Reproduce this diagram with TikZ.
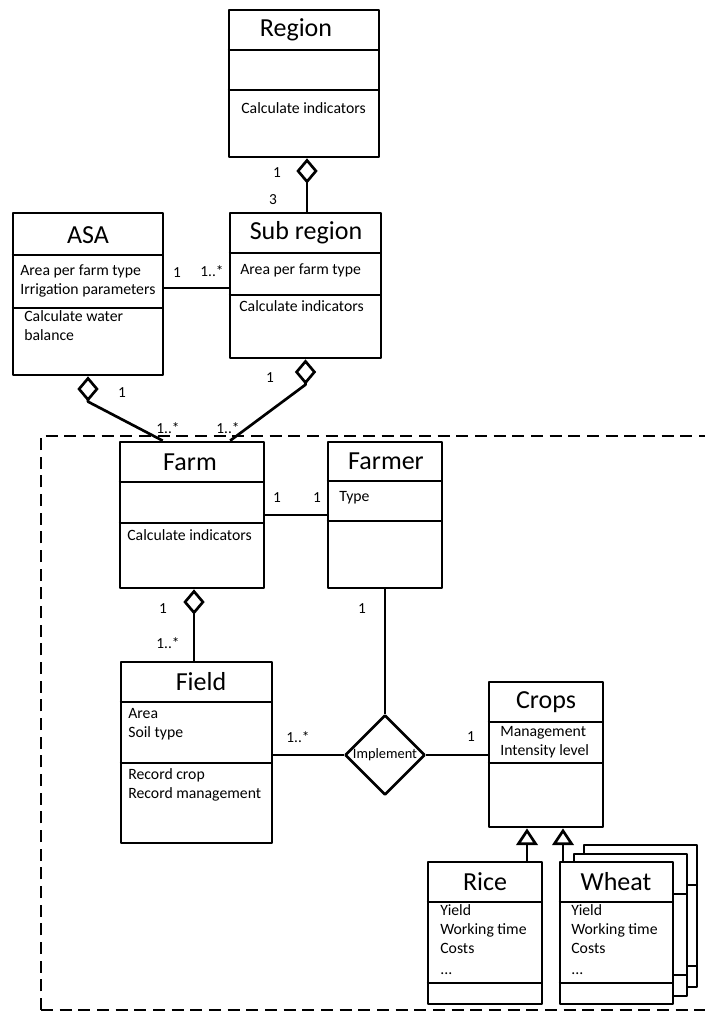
\documentclass[tikz,border=0pt]{standalone}
\usepackage{fontspec}
\setmainfont{Carlito}
\usetikzlibrary{arrows.meta,fit,calc,shapes.geometric}
\begin{document}
\begin{tikzpicture}[x=0.75pt,y=-0.75pt,
  line width=2pt, line join=round,
  classbox/.style={draw, fill=white, rectangle, inner sep=0pt, line width=2pt},
  title/.style={font=\fontsize{19.5}{21}\selectfont, inner sep=0pt},
  attr/.style={font=\fontsize{11.8}{13}\selectfont, inner sep=0pt, anchor=west, text height=1.5ex, text depth=0.3ex},
  mult/.style={font=\fontsize{11.5}{12}\selectfont, inner sep=0pt},
  aggr/.style={-{Diamond[open,length=19pt,width=16pt,line width=2pt]}},
  gen/.style={-{Triangle[open,length=12.5pt,width=16pt,line width=2pt]}},
  frame/.style={dash pattern=on 9pt off 5pt, line width=1.9pt}
]
\useasboundingbox (0,0) rectangle (705,1012);
\clip (0,0) rectangle (705,1012);

% dashed frame
\draw[frame] (41,1010) -- (41,436) -- (720,436);
\draw[frame] (41,1010) -- (720,1010);

% ---------- Region ----------
\node[classbox, fit={(229,10)(379,157)}] (region) {};
\draw (region.west |- 0,50) -- (region.east |- 0,50);
\draw (region.west |- 0,90) -- (region.east |- 0,90);
\node[title] (regionT) at (296,30) {Region};
\node[attr] (regionA) at (240,110) {Calculate indicators};

% ---------- ASA ----------
\node[classbox, fit={(13,213)(163,375)}] (asa) {};
\draw (asa.west |- 0,255) -- (asa.east |- 0,255);
\draw (asa.west |- 0,308) -- (asa.east |- 0,308);
\node[title] (asaT) at (88,235) {ASA};
\node[attr] (asaA1) at (19,272) {Area per farm type};
\node[attr] (asaA2) at (19,291) {Irrigation parameters};
\node[attr] (asaA3) at (23,318) {Calculate water};
\node[attr] (asaA4) at (23,337) {balance};

% ---------- Sub region ----------
\node[classbox, fit={(230,213)(381,358)}] (sub) {};
\draw (sub.west |- 0,253) -- (sub.east |- 0,253);
\draw (sub.west |- 0,295) -- (sub.east |- 0,295);
\node[title] (subT) at (306,233) {Sub region};
\node[attr] (subA1) at (239,271) {Area per farm type};
\node[attr] (subA2) at (238,308) {Calculate indicators};

% ---------- Farm ----------
\node[classbox, fit={(120,442)(264,588)}] (farm) {};
\draw (farm.west |- 0,482) -- (farm.east |- 0,482);
\draw (farm.west |- 0,523) -- (farm.east |- 0,523);
\node[title] (farmT) at (190,462) {Farm};
\node[attr] (farmA) at (126,537) {Calculate indicators};

% ---------- Farmer ----------
\node[classbox, fit={(328,442)(442,588)}] (farmer) {};
\draw (farmer.west |- 0,481) -- (farmer.east |- 0,481);
\draw (farmer.west |- 0,521) -- (farmer.east |- 0,521);
\node[title] (farmerT) at (386,461) {Farmer};
\node[attr] (farmerA) at (338,498) {Type};

% ---------- Field ----------
\node[classbox, fit={(121,662)(272,843)}] (field) {};
\draw (field.west |- 0,702) -- (field.east |- 0,702);
\draw (field.west |- 0,763) -- (field.east |- 0,763);
\node[title] (fieldT) at (201,682) {Field};
\node[attr] (fieldA1) at (127,715) {Area};
\node[attr] (fieldA2) at (127,734) {Soil type};
\node[attr] (fieldA3) at (127,776) {Record crop};
\node[attr] (fieldA4) at (127,795) {Record management};

% ---------- Crops ----------
\node[classbox, fit={(489,682)(603,827)}] (crops) {};
\draw (crops.west |- 0,722) -- (crops.east |- 0,722);
\draw (crops.west |- 0,763) -- (crops.east |- 0,763);
\node[title] (cropsT) at (546,702) {Crops};
\node[attr] (cropsA1) at (499,733) {Management};
\node[attr] (cropsA2) at (499,752) {Intensity level};

% ---------- Rice ----------
\node[classbox, fit={(428,862)(542,1004)}] (rice) {};
\draw (rice.west |- 0,902) -- (rice.east |- 0,902);
\draw (rice.west |- 0,983) -- (rice.east |- 0,983);
\node[title] (riceT) at (485,882) {Rice};
\node[attr] (riceA1) at (439,912) {Yield};
\node[attr] (riceA2) at (439,931) {Working time};
\node[attr] (riceA3) at (439,950) {Costs};
\node[attr] (riceA4) at (439,971) {...};

% ---------- Wheat (stacked) ----------
\node[classbox, fit={(584,845)(697,987)}] (wheat2) {};
\draw (wheat2.west |- 0,885) -- (wheat2.east |- 0,885);
\draw (wheat2.west |- 0,966) -- (wheat2.east |- 0,966);
\node[classbox, fit={(574,854)(687,996)}] (wheat1) {};
\draw (wheat1.west |- 0,894) -- (wheat1.east |- 0,894);
\draw (wheat1.west |- 0,975) -- (wheat1.east |- 0,975);
\node[classbox, fit={(560,862)(673,1004)}] (wheat) {};
\draw (wheat.west |- 0,902) -- (wheat.east |- 0,902);
\draw (wheat.west |- 0,983) -- (wheat.east |- 0,983);
\node[title] (wheatT) at (616,882) {Wheat};
\node[attr] (wheatA1) at (570,912) {Yield};
\node[attr] (wheatA2) at (570,931) {Working time};
\node[attr] (wheatA3) at (570,950) {Costs};
\node[attr] (wheatA4) at (570,971) {...};

% ---------- Implement ----------
\node[diamond, draw, fill=white, line width=2pt, minimum width=60pt, minimum height=60pt, inner sep=0pt, aspect=1,
  font=\fontsize{10.8}{12}\selectfont] (impl) at (385,755) {Implement};

% ---------- connectors ----------
\draw[aggr] (sub.north -| 307,0) -- (region.south -| 307,0);
\draw (asa.east |- 0,288) -- (sub.west |- 0,288);
\draw[aggr] ($(farm.north west)!0.30!(farm.north east)$) -- ([yshift=-19pt]asa.south) -- (asa.south);
\draw[aggr] ($(farm.north west)!0.76!(farm.north east)$) -- ([yshift=-19pt]sub.south) -- (sub.south);
\draw (farm.east |- 0,515) -- (farmer.west |- 0,515);
\draw[aggr] (field.north -| 194,0) -- (farm.south -| 194,0);
\draw (farmer.south) -- (impl.north);
\draw (field.east |- impl.west) -- (impl.west);
\draw (impl.east) -- (impl.east -| crops.west);
\draw[gen] (rice.north -| 527,0) -- (crops.south -| 527,0);
\draw[gen] (wheat.north -| 563,0) -- (crops.south -| 563,0);

% ---------- multiplicities ----------
\node[mult] (m1) at (277,173) {1};
\node[mult] (m2) at (273,200) {3};
\node[mult] (m3) at (177,273) {1};
\node[mult] (m4) at (212,271) {1..*};
\node[mult] (m5) at (122,393) {1};
\node[mult] (m6) at (168,428) {1..*};
\node[mult] (m7) at (270,378) {1};
\node[mult] (m8) at (228,428) {1..*};
\node[mult] (m9) at (277,498) {1};
\node[mult] (m10) at (317,498) {1};
\node[mult] (m11) at (163,609) {1};
\node[mult] (m12) at (168,643) {1..*};
\node[mult] (m13) at (362,609) {1};
\node[mult] (m14) at (298,737) {1..*};
\node[mult] (m15) at (471,737) {1};
\end{tikzpicture}
\end{document}
